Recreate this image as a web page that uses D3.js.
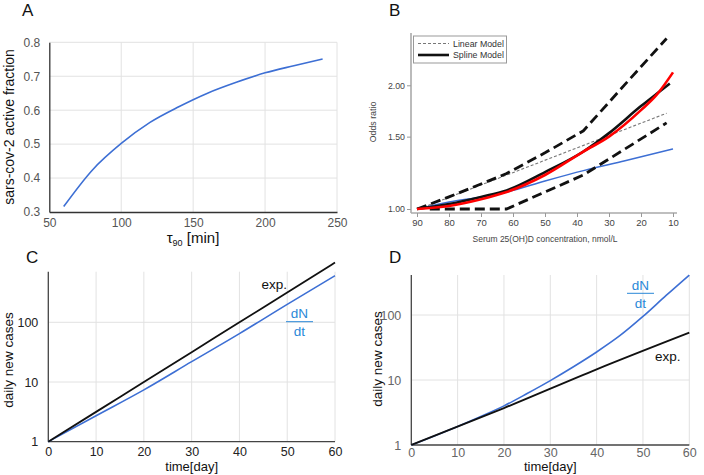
<!DOCTYPE html>
<html><head><meta charset="utf-8">
<script src="https://cdn.jsdelivr.net/npm/d3@7"></script>
<style>body{margin:0;background:#fff}svg{display:block;font-family:"Liberation Sans",Arial,sans-serif}</style>
</head><body>
<svg id="c" width="704" height="475"></svg>
<script>
// ---- Panel A data ----
const tauA = [60,80,100,120,140,160,180,200,220,240];
const fracA = [0.316,0.424,0.502,0.564,0.610,0.650,0.682,0.710,0.731,0.751];
const ticksAx = [50,100,150,200,250];
const ticksAy = [0.3,0.4,0.5,0.6,0.7,0.8];
// ---- Panel B data ----
const concUpper = [90,80,70,62,50,38,25,12];
const orUpper   = [1.0,1.07,1.15,1.22,1.37,1.55,2.01,2.60];
const concLower = [86,62,38,12];
const orLower   = [1.0,1.0,1.21,1.62];
const concSpline = [90,80,70,62,50,38,30,20,15,11];
const orSpline   = [1.0,1.028,1.07,1.11,1.23,1.38,1.53,1.78,1.91,2.02];
const concRed = [90,80,70,62,50,38,30,20,15,10];
const orRed   = [1.0,1.017,1.056,1.10,1.21,1.38,1.50,1.74,1.90,2.15];
const concBlue = [90,80,70,62,50,38,25,10];
const orBlue   = [1.0,1.04,1.07,1.10,1.17,1.24,1.31,1.40];
const concLinear = [88,12];
const orLinear   = [1.01,1.71];
const ticksBx = [90,80,70,60,50,40,30,20,10];
const ticksBy = [1.0,1.5,2.0];
// ---- Panel C data ----
const daysC = [0,10,20,30,40,50,60];
const expC  = [1,3.16,10,31.6,100,316,1000];
const dndtC = [1,2.72,7.38,21.9,64.6,200,603];
// ---- Panel D data ----
const daysD = [0,10,15,20,25,30,35,40,45,50,55,60];
const dndtD = [1,1.93,2.75,4.0,6.2,9.8,16,27,48,95,200,412];
const daysDexp = [0,20,40,60];
const expD  = [1,3.7,14.6,53.5];
const ticksCDx = [0,10,20,30,40,50,60];
const ticksCDy = [1,10,100];

const svg = d3.select("#c");
const BLUE = "#3d6fd4", BLUET = "#2a88d8", GRID = "#e2e2e2";

function zip(a,b){return a.map((v,i)=>[v,b[i]]);}

// ================= Panel A =================
(function(){
  const x = d3.scaleLinear().domain([50,250]).range([49.3,337]);
  const y = d3.scaleLinear().domain([0.3,0.8]).range([212,42.3]);
  const g = svg.append("g");
  g.selectAll(".gy").data(ticksAy.slice(1)).join("line")
    .attr("x1",x(50)).attr("x2",x(250)).attr("y1",d=>y(d)).attr("y2",d=>y(d)).attr("stroke",GRID);
  g.selectAll(".gx").data(ticksAx.slice(1)).join("line")
    .attr("x1",d=>x(d)).attr("x2",d=>x(d)).attr("y1",y(0.3)).attr("y2",y(0.8)).attr("stroke",GRID);
  const ax = g.append("g").attr("transform",`translate(0,${y(0.3)})`)
    .call(d3.axisBottom(x).tickValues(ticksAx).tickSize(0).tickPadding(6));
  const ay = g.append("g").attr("transform",`translate(${x(50)},0)`)
    .call(d3.axisLeft(y).tickValues(ticksAy).tickSize(0).tickPadding(9).tickFormat(d3.format(".1f")));
  [ax,ay].forEach(a=>{a.select(".domain").attr("stroke","#333").attr("stroke-width",1.3);
    a.selectAll("text").attr("fill","#555").attr("font-size",12).attr("font-family","Liberation Sans,Arial");});
  g.append("path").datum(zip(tauA,fracA))
    .attr("d",d3.line().x(d=>x(d[0])).y(d=>y(d[1])).curve(d3.curveMonotoneX))
    .attr("fill","none").attr("stroke",BLUE).attr("stroke-width",1.6);
  g.append("text").attr("transform","translate(14,127) rotate(-90)").attr("text-anchor","middle")
    .attr("font-size",14).attr("fill","#111").text("sars-cov-2 active fraction");
  const t = g.append("text").attr("x",193).attr("y",242.5).attr("text-anchor","middle").attr("font-size",15).attr("fill","#111");
  t.append("tspan").text("τ");
  t.append("tspan").attr("font-size",9).attr("dy",3).text("90");
  t.append("tspan").attr("dy",-3).text(" [min]");
  g.append("text").attr("x",22).attr("y",16).attr("font-size",17).attr("fill","#111").text("A");
})();

// ================= Panel B =================
(function(){
  const x = d3.scaleLinear().domain([90,10]).range([417,673]);
  const y = d3.scaleLog().domain([1,2]).range([209,85.3]);
  const g = svg.append("g");
  g.append("line").attr("x1",411).attr("x2",411).attr("y1",33).attr("y2",213).attr("stroke","#aaa").attr("stroke-width",1.6);
  g.append("line").attr("x1",411).attr("x2",677).attr("y1",213).attr("y2",213).attr("stroke","#aaa").attr("stroke-width",1.6);
  const ax = g.append("g").attr("transform","translate(0,213)")
    .call(d3.axisBottom(x).tickValues(ticksBx).tickSize(4).tickPadding(2));
  const ay = g.append("g").attr("transform","translate(411,0)")
    .call(d3.axisLeft(y).tickValues(ticksBy).tickSize(4).tickPadding(2).tickFormat(d3.format(".2f")));
  [ax,ay].forEach(a=>{a.select(".domain").remove();
    a.selectAll("line").attr("stroke","#999");
    a.selectAll("text").attr("fill","#444").attr("font-size",9.5).attr("font-family","Liberation Sans,Arial");});
  ay.selectAll("text").attr("font-size",8.8);
  const line = d3.line().x(d=>x(d[0])).y(d=>y(d[1]));
  const lineC = d3.line().x(d=>x(d[0])).y(d=>y(d[1])).curve(d3.curveMonotoneX);
  g.append("path").datum(zip(concLinear,orLinear)).attr("d",line)
    .attr("fill","none").attr("stroke","#777").attr("stroke-width",1.1).attr("stroke-dasharray","3,2");
  g.append("path").datum(zip(concBlue,orBlue)).attr("d",lineC)
    .attr("fill","none").attr("stroke",BLUE).attr("stroke-width",1.5);
  g.append("path").datum(zip(concUpper,orUpper)).attr("d",line)
    .attr("fill","none").attr("stroke","#111").attr("stroke-width",2.8).attr("stroke-dasharray","10,5");
  g.append("path").datum(zip(concLower,orLower)).attr("d",line)
    .attr("fill","none").attr("stroke","#111").attr("stroke-width",2.8).attr("stroke-dasharray","10,5");
  g.append("path").datum(zip(concSpline,orSpline)).attr("d",lineC)
    .attr("fill","none").attr("stroke","#111").attr("stroke-width",2.6);
  g.append("path").datum(zip(concRed,orRed)).attr("d",lineC)
    .attr("fill","none").attr("stroke","#f00").attr("stroke-width",2.6);
  // legend
  g.append("rect").attr("x",413.5).attr("y",36).attr("width",93).attr("height",27).attr("fill","#fff").attr("stroke","#999");
  g.append("line").attr("x1",418).attr("x2",449).attr("y1",43.5).attr("y2",43.5).attr("stroke","#777").attr("stroke-width",1.1).attr("stroke-dasharray","3,2");
  g.append("line").attr("x1",418).attr("x2",449).attr("y1",55).attr("y2",55).attr("stroke","#111").attr("stroke-width",2.6);
  g.append("text").attr("x",453).attr("y",46.7).attr("font-size",8.8).attr("fill","#333").text("Linear Model");
  g.append("text").attr("x",453).attr("y",58.3).attr("font-size",8.8).attr("fill","#333").text("Spline Model");
  g.append("text").attr("transform","translate(376,122) rotate(-90)").attr("text-anchor","middle")
    .attr("font-size",8.8).attr("fill","#444").text("Odds ratio");
  g.append("text").attr("x",545).attr("y",242).attr("text-anchor","middle").attr("font-size",8.5).attr("fill","#444")
    .text("Serum 25(OH)D concentration, nmol/L");
  g.append("text").attr("x",389).attr("y",16).attr("font-size",17).attr("fill","#111").text("B");
})();

// ================= Panels C & D =================
function logPanel(opt){
  const x = d3.scaleLinear().domain([0,60]).range([opt.x0,opt.x1]);
  const y = d3.scaleLog().domain([1,100]).range([opt.y1,opt.y100]);
  const g = svg.append("g");
  g.selectAll(".gy").data([10,100]).join("line")
    .attr("x1",opt.x0).attr("x2",opt.x1).attr("y1",d=>y(d)).attr("y2",d=>y(d)).attr("stroke",GRID);
  g.selectAll(".gx").data(ticksCDx.slice(1)).join("line")
    .attr("x1",d=>x(d)).attr("x2",d=>x(d)).attr("y1",opt.yTop).attr("y2",opt.y1).attr("stroke",GRID);
  const ax = g.append("g").attr("transform",`translate(0,${opt.y1})`)
    .call(d3.axisBottom(x).tickValues(ticksCDx).tickSize(0).tickPadding(opt.xPad));
  const ay = g.append("g").attr("transform",`translate(${opt.x0},0)`)
    .call(d3.axisLeft(y).tickValues(ticksCDy).tickSize(0).tickPadding(opt.yPad).tickFormat(d3.format("d")));
  ax.select(".domain").remove(); ay.select(".domain").remove();
  g.append("line").attr("x1",opt.x0).attr("x2",opt.x0).attr("y1",opt.yTop).attr("y2",opt.y1).attr("stroke","#444").attr("stroke-width",1.3);
  g.append("line").attr("x1",opt.x0).attr("x2",opt.x1).attr("y1",opt.y1).attr("y2",opt.y1).attr("stroke","#444").attr("stroke-width",1.3);
  [ax,ay].forEach(a=>a.selectAll("text").attr("fill",opt.tickCol).attr("font-size",12.5).attr("font-family","Liberation Sans,Arial"));
  const lc = d3.line().x(d=>x(d[0])).y(d=>y(d[1])).curve(d3.curveMonotoneX);
  g.append("path").datum(zip(opt.bx,opt.by)).attr("d",lc).attr("fill","none").attr("stroke",BLUE).attr("stroke-width",1.6);
  g.append("path").datum(zip(opt.ex,opt.ey)).attr("d",lc).attr("fill","none").attr("stroke","#111").attr("stroke-width",1.8);
  g.append("text").attr("transform",`translate(${opt.ylx},${opt.yly}) rotate(-90)`).attr("text-anchor","middle")
    .attr("font-size",13.5).attr("fill","#111").text("daily new cases");
  g.append("text").attr("x",(opt.x0+opt.x1)/2).attr("y",470.5).attr("text-anchor","middle")
    .attr("font-size",13).attr("fill","#111").text("time[day]");
  g.append("text").attr("x",opt.expX).attr("y",opt.expY).attr("font-size",13.5).attr("fill","#111").text("exp.");
  g.append("text").attr("x",opt.fx).attr("y",opt.fy-3.5).attr("text-anchor","middle").attr("font-size",13.5).attr("fill",BLUET).text("dN");
  g.append("line").attr("x1",opt.fx-13.5).attr("x2",opt.fx+13.5).attr("y1",opt.fy).attr("y2",opt.fy).attr("stroke",BLUET).attr("stroke-width",1);
  g.append("text").attr("x",opt.fx).attr("y",opt.fy+14.5).attr("text-anchor","middle").attr("font-size",13.5).attr("fill",BLUET).text("dt");
  g.append("text").attr("x",opt.lx).attr("y",opt.ly).attr("font-size",17).attr("fill","#111").text(opt.letter);
}
logPanel({x0:48.3,x1:335,y1:441.7,y100:322.3,yTop:271.7,xPad:5,yPad:10,tickCol:"#222",
  bx:daysC,by:dndtC,ex:daysC,ey:expC,ylx:13,yly:360,expX:261.5,expY:289,fx:299.5,fy:321.7,
  lx:26,ly:263,letter:"C"});
logPanel({x0:411.3,x1:689.3,y1:445,y100:315,yTop:275,xPad:3,yPad:10,tickCol:"#666",
  bx:daysD,by:dndtD,ex:daysDexp,ey:expD,ylx:382,yly:359,expX:655,expY:361,fx:640.5,fy:293.3,
  lx:389,ly:263,letter:"D"});
</script>
</body></html>
